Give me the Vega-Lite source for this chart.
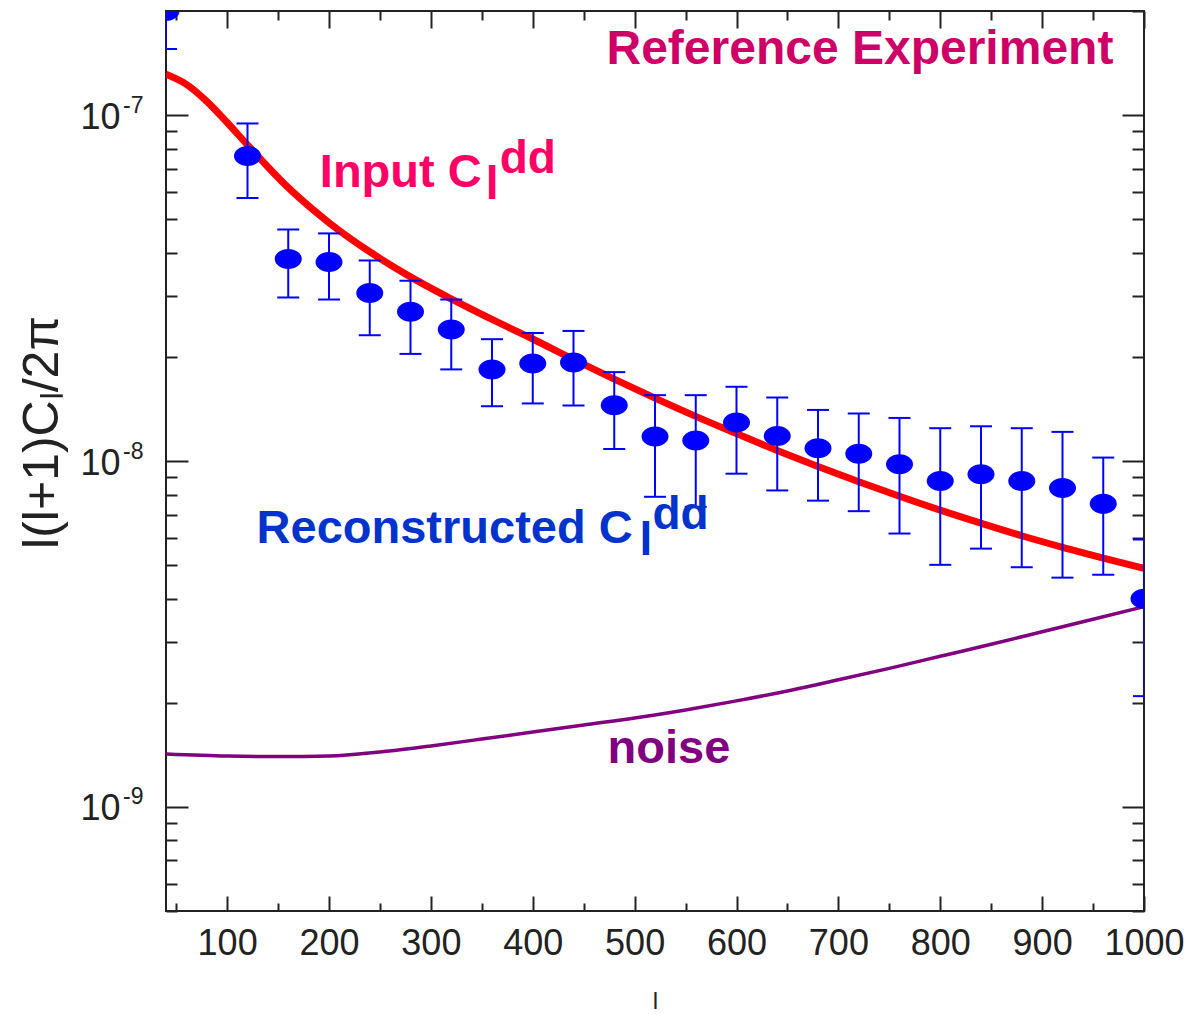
{
  "$schema": "https://vega.github.io/schema/vega-lite/v6.json",
  "width": 978,
  "height": 900,
  "autosize": {"type": "none"},
  "padding": {"left": 166, "top": 11, "right": 48, "bottom": 103},
  "background": "white",
  "config": {
    "view": {"stroke": "#222222", "strokeWidth": 2},
    "font": "Liberation Sans"
  },
  "datasets": {
    "recon": [
      {"l": 40, "val": 2.0e-7, "lo": 1.553e-7, "hi": 2.5e-7},
      {"l": 120, "val": 7.62e-8, "lo": 5.76e-8, "hi": 9.46e-8},
      {"l": 160, "val": 3.84e-8, "lo": 2.97e-8, "hi": 4.67e-8},
      {"l": 200, "val": 3.76e-8, "lo": 2.93e-8, "hi": 4.55e-8},
      {"l": 240, "val": 3.06e-8, "lo": 2.31e-8, "hi": 3.80e-8},
      {"l": 280, "val": 2.70e-8, "lo": 2.04e-8, "hi": 3.32e-8},
      {"l": 320, "val": 2.40e-8, "lo": 1.84e-8, "hi": 2.93e-8},
      {"l": 360, "val": 1.84e-8, "lo": 1.44e-8, "hi": 2.25e-8},
      {"l": 400, "val": 1.915e-8, "lo": 1.467e-8, "hi": 2.345e-8},
      {"l": 440, "val": 1.928e-8, "lo": 1.447e-8, "hi": 2.377e-8},
      {"l": 480, "val": 1.45e-8, "lo": 1.083e-8, "hi": 1.807e-8},
      {"l": 520, "val": 1.177e-8, "lo": 7.88e-9, "hi": 1.55e-8},
      {"l": 560, "val": 1.146e-8, "lo": 7.37e-9, "hi": 1.55e-8},
      {"l": 600, "val": 1.292e-8, "lo": 9.19e-9, "hi": 1.639e-8},
      {"l": 640, "val": 1.182e-8, "lo": 8.22e-9, "hi": 1.526e-8},
      {"l": 680, "val": 1.088e-8, "lo": 7.68e-9, "hi": 1.405e-8},
      {"l": 720, "val": 1.05e-8, "lo": 7.16e-9, "hi": 1.372e-8},
      {"l": 760, "val": 9.78e-9, "lo": 6.17e-9, "hi": 1.332e-8},
      {"l": 800, "val": 8.75e-9, "lo": 5.01e-9, "hi": 1.244e-8},
      {"l": 840, "val": 9.15e-9, "lo": 5.58e-9, "hi": 1.26e-8},
      {"l": 880, "val": 8.75e-9, "lo": 4.93e-9, "hi": 1.244e-8},
      {"l": 920, "val": 8.35e-9, "lo": 4.60e-9, "hi": 1.214e-8},
      {"l": 960, "val": 7.52e-9, "lo": 4.69e-9, "hi": 1.023e-8},
      {"l": 1000, "val": 4.0e-9, "lo": 2.09e-9, "hi": 5.93e-9}
    ],
    "input": [
      {"l": 40, "val": 1.312e-7},
      {"l": 60, "val": 1.227e-7},
      {"l": 80, "val": 1.096e-7},
      {"l": 100, "val": 9.52e-8},
      {"l": 120, "val": 8.2e-8},
      {"l": 160, "val": 6.17e-8},
      {"l": 200, "val": 4.887e-8},
      {"l": 240, "val": 4.026e-8},
      {"l": 280, "val": 3.407e-8},
      {"l": 320, "val": 2.942e-8},
      {"l": 360, "val": 2.566e-8},
      {"l": 400, "val": 2.253e-8},
      {"l": 440, "val": 1.966e-8},
      {"l": 480, "val": 1.724e-8},
      {"l": 520, "val": 1.52e-8},
      {"l": 560, "val": 1.346e-8},
      {"l": 600, "val": 1.2e-8},
      {"l": 640, "val": 1.072e-8},
      {"l": 680, "val": 9.64e-9},
      {"l": 720, "val": 8.71e-9},
      {"l": 760, "val": 7.91e-9},
      {"l": 800, "val": 7.21e-9},
      {"l": 840, "val": 6.61e-9},
      {"l": 880, "val": 6.08e-9},
      {"l": 920, "val": 5.63e-9},
      {"l": 960, "val": 5.24e-9},
      {"l": 1000, "val": 4.89e-9}
    ],
    "noise": [
      {"l": 40, "val": 1.422e-9},
      {"l": 100, "val": 1.403e-9},
      {"l": 150, "val": 1.398e-9},
      {"l": 200, "val": 1.403e-9},
      {"l": 250, "val": 1.441e-9},
      {"l": 300, "val": 1.5e-9},
      {"l": 350, "val": 1.571e-9},
      {"l": 400, "val": 1.646e-9},
      {"l": 450, "val": 1.725e-9},
      {"l": 500, "val": 1.807e-9},
      {"l": 550, "val": 1.907e-9},
      {"l": 600, "val": 2.025e-9},
      {"l": 650, "val": 2.164e-9},
      {"l": 700, "val": 2.33e-9},
      {"l": 750, "val": 2.515e-9},
      {"l": 800, "val": 2.725e-9},
      {"l": 850, "val": 2.953e-9},
      {"l": 900, "val": 3.208e-9},
      {"l": 950, "val": 3.487e-9},
      {"l": 1000, "val": 3.792e-9}
    ],
    "notes": [
      {"l": 472.4, "val": 1.408e-7, "txt": "Reference Experiment", "series": "ref", "part": "title"},
      {"l": 191, "val": 6.21e-8, "txt": "Input C", "series": "input", "part": "main"},
      {"l": 353.8, "val": 5.74e-8, "txt": "l", "series": "input", "part": "small"},
      {"l": 367.5, "val": 6.78e-8, "txt": "dd", "series": "input", "part": "small"},
      {"l": 128.9, "val": 5.8e-9, "txt": "Reconstructed C", "series": "recon", "part": "main"},
      {"l": 504.8, "val": 5.365e-9, "txt": "l", "series": "recon", "part": "small"},
      {"l": 517.5, "val": 6.37e-9, "txt": "dd", "series": "recon", "part": "small"},
      {"l": 473.4, "val": 1.339e-9, "txt": "noise", "series": "noise", "part": "main"}
    ]
  },
  "resolve": {"axis": {"x": "independent", "y": "independent"}},
  "layer": [
    {
      "data": {"name": "input"},
      "mark": {"type": "line", "color": "#FF0000", "strokeWidth": 7, "interpolate": "monotone", "clip": true},
      "encoding": {
        "x": {
          "field": "l", "type": "quantitative",
          "scale": {"domain": [40, 1000], "zero": false, "nice": false},
          "axis": {
            "orient": "bottom",
            "values": [50, 100, 150, 200, 250, 300, 350, 400, 450, 500, 550, 600, 650, 700, 750, 800, 850, 900, 950, 1000],
            "format": "d",
            "labelExpr": "datum.value % 100 === 0 ? datum.label : ''",
            "labelFlush": false,
            "labelFont": "Liberation Sans",
            "labelFontSize": 36,
            "labelColor": "#222222",
            "labelPadding": 30,
            "domain": false,
            "grid": false,
            "tickColor": "#222222",
            "tickWidth": 2,
            "tickSize": {"condition": {"test": "datum.value % 100 === 0", "value": -15}, "value": -8},
            "title": "l",
            "titleFont": "Liberation Sans",
            "titleFontSize": 24,
            "titleFontWeight": "normal",
            "titleColor": "#222222",
            "titleBaseline": "top",
            "titleX": 489,
            "titleY": 78.5
          }
        },
        "y": {
          "field": "val", "type": "quantitative",
          "scale": {"type": "log", "domain": [5e-10, 2e-7], "nice": false},
          "axis": {
            "orient": "left",
            "values": [5e-10, 6e-10, 7e-10, 8e-10, 9e-10, 1e-9, 2e-9, 3e-9, 4e-9, 5e-9, 6e-9, 7e-9, 8e-9, 9e-9, 1e-8, 2e-8, 3e-8, 4e-8, 5e-8, 6e-8, 7e-8, 8e-8, 9e-8, 1e-7, 2e-7],
            "labelExpr": "abs(log(datum.value)/LN10 - round(log(datum.value)/LN10)) < 0.001 && datum.value < 1.5e-7 ? '10' : ''",
            "labelFont": "Liberation Sans",
            "labelFontSize": 36,
            "labelColor": "#222222",
            "labelPadding": 68,
            "labelOffset": 2,
            "domain": false,
            "grid": false,
            "tickColor": "#222222",
            "tickWidth": 2,
            "tickSize": {"condition": {"test": "abs(log(datum.value)/LN10 - round(log(datum.value)/LN10)) < 0.001", "value": -22}, "value": -11},
            "title": "l(l+1)Cₗ/2π",
            "titleFont": "Liberation Sans",
            "titleFontSize": 50,
            "titleFontWeight": "normal",
            "titleColor": "#222222",
            "titleAngle": 270,
            "titleAlign": "center",
            "titleBaseline": "middle",
            "titleX": -124,
            "titleY": 421
          }
        }
      }
    },
    {
      "data": {"name": "noise"},
      "mark": {"type": "line", "color": "#800080", "strokeWidth": 3.5, "interpolate": "monotone", "clip": true},
      "encoding": {
        "x": {
          "field": "l", "type": "quantitative",
          "scale": {"domain": [40, 1000], "zero": false, "nice": false},
          "axis": {
            "orient": "top",
            "values": [50, 100, 150, 200, 250, 300, 350, 400, 450, 500, 550, 600, 650, 700, 750, 800, 850, 900, 950, 1000],
            "labels": false,
            "domain": false,
            "grid": false,
            "tickColor": "#222222",
            "tickWidth": 2,
            "tickSize": {"condition": {"test": "datum.value % 100 === 0", "value": -17}, "value": -9},
            "title": null
          }
        },
        "y": {
          "field": "val", "type": "quantitative",
          "scale": {"type": "log", "domain": [5e-10, 2e-7], "nice": false},
          "axis": {
            "orient": "right",
            "values": [5e-10, 6e-10, 7e-10, 8e-10, 9e-10, 1e-9, 2e-9, 3e-9, 4e-9, 5e-9, 6e-9, 7e-9, 8e-9, 9e-9, 1e-8, 2e-8, 3e-8, 4e-8, 5e-8, 6e-8, 7e-8, 8e-8, 9e-8, 1e-7, 2e-7],
            "labels": false,
            "domain": false,
            "grid": false,
            "tickColor": "#222222",
            "tickWidth": 2,
            "tickSize": {"condition": {"test": "abs(log(datum.value)/LN10 - round(log(datum.value)/LN10)) < 0.001", "value": -22}, "value": -12},
            "title": null
          }
        }
      }
    },
    {
      "data": {"name": "recon"},
      "mark": {"type": "rule", "color": "#0000FF", "strokeWidth": 2, "clip": true},
      "encoding": {
        "x": {"field": "l", "type": "quantitative", "scale": {"domain": [40, 1000], "zero": false, "nice": false}, "axis": null},
        "y": {
          "field": "lo", "type": "quantitative",
          "scale": {"type": "log", "domain": [5e-10, 2e-7], "nice": false},
          "axis": {
            "orient": "left",
            "values": [1e-9, 1e-8, 1e-7],
            "labelExpr": "'-' + abs(round(log(datum.value)/LN10))",
            "labelFont": "Liberation Sans",
            "labelFontSize": 23,
            "labelColor": "#222222",
            "labelPadding": 23,
            "labelOffset": -10,
            "ticks": false,
            "domain": false,
            "grid": false,
            "title": null
          }
        },
        "y2": {"field": "hi"}
      }
    },
    {
      "data": {"name": "recon"},
      "transform": [{"fold": ["lo", "hi"], "as": ["end", "bound"]}],
      "mark": {"type": "tick", "orient": "horizontal", "size": 22, "thickness": 2, "color": "#0000FF", "opacity": 1, "clip": true},
      "encoding": {
        "x": {"field": "l", "type": "quantitative", "scale": {"domain": [40, 1000], "zero": false, "nice": false}, "axis": null},
        "y": {"field": "bound", "type": "quantitative", "scale": {"type": "log", "domain": [5e-10, 2e-7], "nice": false}, "axis": null}
      }
    },
    {
      "data": {"name": "recon"},
      "mark": {
        "type": "point",
        "shape": "M-1,0C-1,-0.4087,-0.5523,-0.74,0,-0.74C0.5523,-0.74,1,-0.4087,1,0C1,0.4087,0.5523,0.74,0,0.74C-0.5523,0.74,-1,0.4087,-1,0Z",
        "size": 729,
        "filled": true,
        "color": "#0000FF",
        "opacity": 1,
        "clip": true
      },
      "encoding": {
        "x": {"field": "l", "type": "quantitative", "scale": {"domain": [40, 1000], "zero": false, "nice": false}, "axis": null},
        "y": {"field": "val", "type": "quantitative", "scale": {"type": "log", "domain": [5e-10, 2e-7], "nice": false}, "axis": null}
      }
    },
    {
      "data": {"name": "notes"},
      "mark": {"type": "text", "font": "Liberation Sans", "fontWeight": "bold", "align": "left", "baseline": "alphabetic"},
      "encoding": {
        "x": {"field": "l", "type": "quantitative", "scale": {"domain": [40, 1000], "zero": false, "nice": false}, "axis": null},
        "y": {"field": "val", "type": "quantitative", "scale": {"type": "log", "domain": [5e-10, 2e-7], "nice": false}, "axis": null},
        "text": {"field": "txt"},
        "color": {
          "field": "series", "type": "nominal",
          "scale": {"domain": ["ref", "input", "recon", "noise"], "range": ["#CC0066", "#FF0066", "#0033CC", "#800080"]},
          "legend": null
        },
        "size": {
          "field": "part", "type": "ordinal",
          "scale": {"domain": ["title", "main", "small"], "range": [48, 46, 27]},
          "legend": null
        }
      }
    }
  ]
}
